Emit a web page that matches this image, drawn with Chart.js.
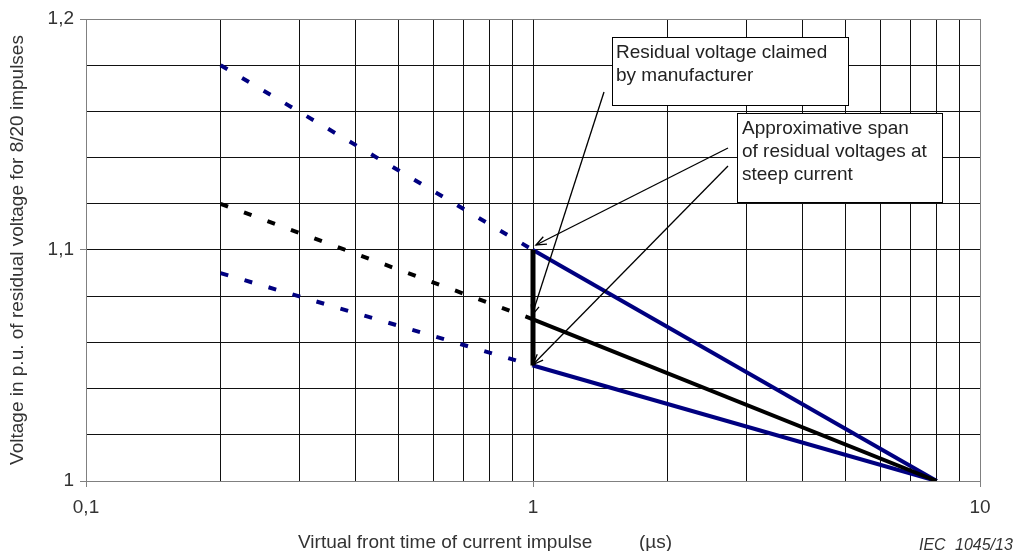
<!DOCTYPE html>
<html><head><meta charset="utf-8">
<script src="https://cdn.jsdelivr.net/npm/chart.js@4.4.0/dist/chart.umd.min.js"></script>
<style>html,body{margin:0;padding:0;background:#fff;}</style>
</head><body>
<canvas id="c" width="1017" height="551"></canvas>
<script>
// ---- data ----
const xDashed = [0.2, 1];
const xSolid = [1, 8];
const upperDashed = [1.18, 1.10];
const middleDashed = [1.12, 1.07];
const lowerDashed = [1.09, 1.05];
const upperSolid = [1.10, 1.00];
const middleSolid = [1.07, 1.00];
const lowerSolid = [1.05, 1.00];
const spanX = [1, 1];
const spanY = [1.05, 1.10];

const xGridValues = [0.1,0.2,0.3,0.4,0.5,0.6,0.7,0.8,0.9,1,2,3,4,5,6,7,8,9,10];
const xLabelValues = [0.1, 1, 10];
const xLabelTexts = ['0,1', '1', '10'];
const yGridValues = [1,1.02,1.04,1.06,1.08,1.1,1.12,1.14,1.16,1.18,1.2];
const yLabelValues = [1, 1.1, 1.2];
const yLabelTexts = ['1', '1,1', '1,2'];

const BLUE = '#000080';
const FONT = "'Liberation Sans', Arial, sans-serif";

function pts(xs, ys){ return xs.map((x,i)=>({x:x, y:ys[i]})); }
function labelIndex(vals, v){ return vals.findIndex(a => Math.abs(a - v) < 1e-9); }

function ds(xs, ys, color, width, dash, order){
  return {data: pts(xs, ys), borderColor: color, borderWidth: width, borderDash: dash || [],
    pointRadius: 0, fill: false, tension: 0, order: order, borderCapStyle: 'butt'};
}

const datasets = [
  ds(spanX, spanY, '#000', 5, null, 0),
  ds(xSolid, middleSolid, '#000', 4, null, 1),
  ds(xSolid, upperSolid, BLUE, 4, null, 2),
  ds(xSolid, lowerSolid, BLUE, 4, null, 3),
  ds(xDashed, upperDashed, BLUE, 4, [8, 17], 4),
  ds(xDashed, middleDashed, '#000', 4, [8, 17], 5),
  ds(xDashed, lowerDashed, BLUE, 4, [8, 17], 6)
];

const callouts = [
  {box:[612, 37, 236, 68], lines:['Residual voltage claimed','by manufacturer'], textX:616, baseline0:58,
   arrows:[{from:[604, 92], tip:{x:1, y:middleSolid[0]}, off:[-1,-4]}]},
  {box:[737, 113, 205, 89], lines:['Approximative span','of residual voltages at','steep current'], textX:742, baseline0:134,
   arrows:[{from:[728, 148], tip:{x:1, y:upperSolid[0]}, off:[3,-5]},
           {from:[728, 166], tip:{x:1, y:lowerSolid[0]}, off:[0,-1]}]}
];

const decor = {
  id: 'decor',
  afterDatasetsDraw(chart){
    const c = chart.ctx, xs = chart.scales.x, ys = chart.scales.y;
    c.save();
    callouts.forEach(co => {
      const [bx, by, bw, bh] = co.box;
      c.fillStyle = '#fff';
      c.fillRect(bx, by, bw, bh);
      c.strokeStyle = '#000'; c.lineWidth = 1;
      c.strokeRect(bx + 0.5, by + 0.5, bw, bh);
      c.fillStyle = '#222';
      c.font = '19px ' + FONT;
      c.textAlign = 'left'; c.textBaseline = 'alphabetic';
      co.lines.forEach((t, i) => c.fillText(t, co.textX, co.baseline0 + i * 23));
      co.arrows.forEach(a => {
        const tx = xs.getPixelForValue(a.tip.x) + a.off[0];
        const ty = ys.getPixelForValue(a.tip.y) + a.off[1];
        const fx = a.from[0], fy = a.from[1];
        c.strokeStyle = '#000'; c.lineWidth = 1.3;
        c.beginPath(); c.moveTo(fx, fy); c.lineTo(tx, ty); c.stroke();
        const ang = Math.atan2(ty - fy, tx - fx);
        const L = 11, h = 0.38;
        c.beginPath();
        c.moveTo(tx - L * Math.cos(ang - h), ty - L * Math.sin(ang - h));
        c.lineTo(tx, ty);
        c.lineTo(tx - L * Math.cos(ang + h), ty - L * Math.sin(ang + h));
        c.stroke();
      });
    });
    c.restore();
  },
  afterDraw(chart){
    const c = chart.ctx, ca = chart.chartArea;
    c.save();
    c.fillStyle = '#333';
    c.font = '19px ' + FONT;
    c.textBaseline = 'alphabetic'; c.textAlign = 'left';
    c.fillText('Virtual front time of current impulse', 298, 548);
    c.fillText('(\u00B5s)', 639, 548);
    c.font = 'italic 16px ' + FONT;
    c.fillText('IEC', 919, 550);
    c.fillText('1045/13', 955, 550);
    c.translate(18, (ca.top + ca.bottom) / 2);
    c.rotate(-Math.PI / 2);
    c.font = '19px ' + FONT;
    c.textAlign = 'center'; c.textBaseline = 'middle';
    c.fillText('Voltage in p.u. of residual voltage for 8/20 impulses', 0, 0);
    c.restore();
  }
};

new Chart(document.getElementById('c'), {
  type: 'line',
  data: { datasets: datasets },
  plugins: [decor],
  options: {
    responsive: false,
    animation: false,
    layout: { padding: { top: 19, right: 37, left: 0, bottom: 0 } },
    plugins: { legend: { display: false }, tooltip: { enabled: false } },
    scales: {
      x: {
        type: 'logarithmic', min: 0.1, max: 10,
        afterBuildTicks: s => { s.ticks = xGridValues.map(v => ({ value: v })); },
        afterFit: s => { s.height = 70; },
        ticks: {
          autoSkip: false, maxRotation: 0, minRotation: 0, padding: 9, color: '#333',
          font: { family: FONT, size: 19 },
          callback: v => { const i = labelIndex(xLabelValues, v); return i >= 0 ? xLabelTexts[i] : ''; }
        },
        grid: {
          color: ctx => { const v = ctx.tick && ctx.tick.value; return (Math.abs(v - 10) < 1e-9 || Math.abs(v - 0.1) < 1e-9) ? '#808080' : '#111'; },
          tickColor: ctx => labelIndex(xLabelValues, ctx.tick.value) >= 0 ? '#808080' : 'rgba(0,0,0,0)',
          tickLength: 6, lineWidth: 1
        },
        border: { display: true, color: '#808080', width: 1 }
      },
      y: {
        type: 'linear', min: 1, max: 1.2,
        afterBuildTicks: s => { s.ticks = yGridValues.map(v => ({ value: v })); },
        afterFit: s => { s.width = 86; },
        ticks: {
          autoSkip: false, padding: 6, color: '#333',
          font: { family: FONT, size: 19 },
          callback: v => { const i = labelIndex(yLabelValues, v); return i >= 0 ? yLabelTexts[i] : ''; }
        },
        grid: {
          color: ctx => { const v = ctx.tick && ctx.tick.value; return (Math.abs(v - 1.2) < 1e-9 || Math.abs(v - 1) < 1e-9) ? '#808080' : '#111'; },
          tickColor: ctx => labelIndex(yLabelValues, ctx.tick.value) >= 0 ? '#808080' : 'rgba(0,0,0,0)',
          tickLength: 6, lineWidth: 1
        },
        border: { display: true, color: '#808080', width: 1 }
      }
    }
  }
});
</script>
</body></html>
